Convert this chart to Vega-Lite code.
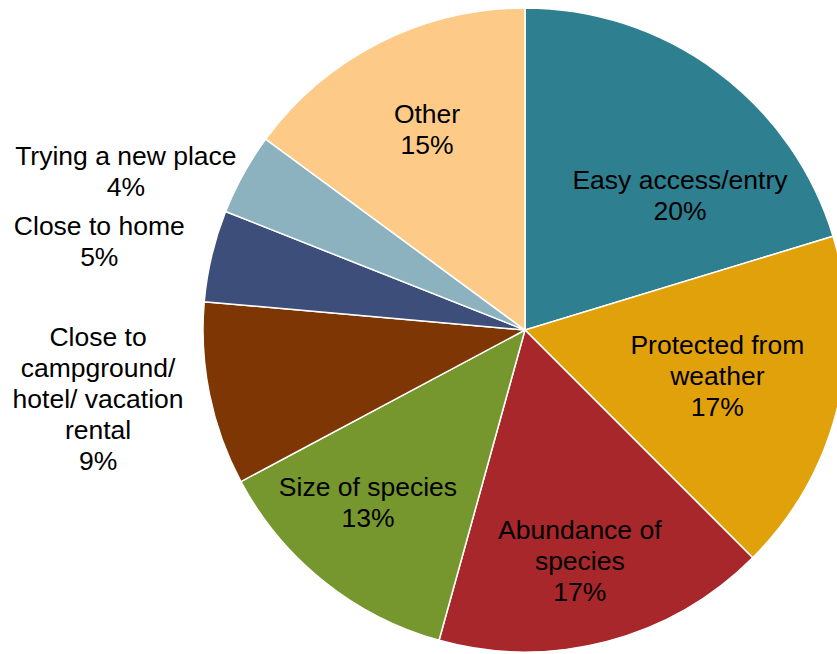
{
  "$schema": "https://vega.github.io/schema/vega-lite/v6.json",
  "autosize": {"type": "none"},
  "width": 624,
  "height": 648,
  "padding": {"left": 213, "top": 6, "right": 0, "bottom": 0},
  "background": "white",
  "view": {"stroke": null},
  "config": {
    "text": {"font": "Liberation Sans", "fontSize": 26.5, "lineHeight": 31, "lineBreak": "\n", "color": "black", "align": "center", "baseline": "middle"}
  },
  "data": {
    "values": [
      {"order": 1, "category": "Easy access/entry", "value": 20.3, "label": "Easy access/entry\n20%"},
      {"order": 2, "category": "Protected from weather", "value": 17.2, "label": "Protected from\nweather\n17%"},
      {"order": 3, "category": "Abundance of species", "value": 16.8, "label": "Abundance of\nspecies\n17%"},
      {"order": 4, "category": "Size of species", "value": 12.9, "label": "Size of species\n13%"},
      {"order": 5, "category": "Close to campground/hotel/vacation rental", "value": 9.2, "label": "Close to\ncampground/\nhotel/ vacation\nrental\n9%"},
      {"order": 6, "category": "Close to home", "value": 4.6, "label": "Close to home\n5%"},
      {"order": 7, "category": "Trying a new place", "value": 4.1, "label": "Trying a new place\n4%"},
      {"order": 8, "category": "Other", "value": 14.9, "label": "Other\n15%"}
    ]
  },
  "encoding": {
    "theta": {"field": "value", "type": "quantitative", "stack": true},
    "order": {"field": "order", "type": "quantitative"}
  },
  "layer": [
    {
      "mark": {"type": "arc", "outerRadius": 322, "stroke": "white", "strokeWidth": 1.5},
      "encoding": {
        "color": {
          "field": "category",
          "type": "nominal",
          "scale": {
            "domain": ["Easy access/entry", "Protected from weather", "Abundance of species", "Size of species", "Close to campground/hotel/vacation rental", "Close to home", "Trying a new place", "Other"],
            "range": ["#2E7F90", "#E0A10B", "#A8272B", "#76972D", "#7E3704", "#3E4E7A", "#8CB2C0", "#FDCA88"]
          },
          "legend": null
        }
      }
    },
    {
      "mark": {"type": "text", "radius": 215, "thetaOffset": 0.167},
      "encoding": {"text": {"condition": {"test": "datum.order == 1", "field": "label"}, "value": ""}}
    },
    {
      "mark": {"type": "text", "radius": 193, "thetaOffset": -0.162},
      "encoding": {"text": {"condition": {"test": "datum.order == 2", "field": "label"}, "value": ""}}
    },
    {
      "mark": {"type": "text", "radius": 208, "thetaOffset": -0.009},
      "encoding": {"text": {"condition": {"test": "datum.order == 3", "field": "label"}, "value": ""}}
    },
    {
      "mark": {"type": "text", "radius": 223, "thetaOffset": 0.106},
      "encoding": {"text": {"condition": {"test": "datum.order == 4", "field": "label"}, "value": ""}}
    },
    {
      "mark": {"type": "text", "radius": 427, "thetaOffset": 0.182},
      "encoding": {"text": {"condition": {"test": "datum.order == 5", "field": "label"}, "value": ""}}
    },
    {
      "mark": {"type": "text", "radius": 438, "thetaOffset": 0.005},
      "encoding": {"text": {"condition": {"test": "datum.order == 6", "field": "label"}, "value": ""}}
    },
    {
      "mark": {"type": "text", "radius": 435, "thetaOffset": -0.097},
      "encoding": {"text": {"condition": {"test": "datum.order == 7", "field": "label"}, "value": ""}}
    },
    {
      "mark": {"type": "text", "radius": 236, "thetaOffset": 0.04},
      "encoding": {"text": {"condition": {"test": "datum.order == 8", "field": "label"}, "value": ""}}
    }
  ]
}
